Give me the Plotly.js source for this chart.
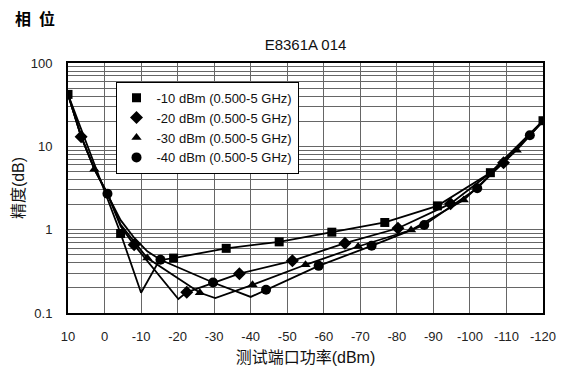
<!DOCTYPE html>
<html>
<head>
<meta charset="utf-8">
<script src="https://cdn.plot.ly/plotly-3.0.1.min.js"></script>
<style>html,body{margin:0;padding:0;background:#fff;}#chart{width:563px;height:374px;}</style>
</head>
<body>
<div id="chart"></div>
<script>
// ---- data (test port power in dBm, accuracy in dB) ----
const seriesNames = ['-10 dBm (0.500-5 GHz)', '-20 dBm (0.500-5 GHz)', '-30 dBm (0.500-5 GHz)', '-40 dBm (0.500-5 GHz)'];

const xM10 = [10, -4.4, -10, -15, -18.9, -33.3, -47.8, -62.2, -76.7, -91.1, -105.6, -120];
const yM10 = [42, 0.90, 0.175, 0.43, 0.456, 0.597, 0.714, 0.933, 1.22, 1.93, 4.83, 20.3];
const mkM10 = [0, 1, 4, 5, 6, 7, 8, 9, 10, 11];

const xM20 = [10, 6.4, 2.8, -0.8, -4.4, -8.1, -20.2, -22.5, -36.9, -51.4, -65.8, -80.3, -94.7, -109.2, -120];
const yM20 = [42, 13.0, 5.4, 2.7, 1.1, 0.657, 0.147, 0.177, 0.296, 0.423, 0.689, 1.04, 2.05, 6.36, 20];
const mkM20 = [1, 5, 7, 8, 9, 10, 11, 12, 13];

const xM30 = [10, 6.4, 2.8, -0.8, -4.4, -8.1, -11.7, -26.1, -30.3, -40.5, -55, -69.4, -83.9, -98.3, -112.8, -120];
const yM30 = [42, 13.2, 5.3, 2.7, 1.15, 0.72, 0.456, 0.175, 0.151, 0.218, 0.379, 0.628, 0.99, 2.27, 9.0, 20];
const mkM30 = [2, 6, 7, 9, 10, 11, 12, 13, 14];

const xM40 = [10, 6.4, 2.8, -0.8, -4.4, -8.1, -11.7, -15.3, -29.7, -40, -44.2, -58.6, -73.1, -87.5, -102, -116.4, -120];
const yM40 = [42, 13.2, 5.4, 2.7, 1.3, 0.8, 0.55, 0.435, 0.232, 0.156, 0.19, 0.368, 0.64, 1.14, 3.14, 13.6, 20];
const mkM40 = [3, 7, 8, 10, 11, 12, 13, 14, 15];

const xTickVals = [10, 0, -10, -20, -30, -40, -50, -60, -70, -80, -90, -100, -110, -120];
const xTickText = ['10', '0', '-10', '-20', '-30', '-40', '-50', '-60', '-70', '-80', '-90', '-100', '-110', '-120'];
const yTickVals = [0.1, 1, 10, 100];
const yTickText = ['0.1', '1', '10', '100'];

// ---- build traces ----
const series = [
  {x: xM10, y: yM10, mk: mkM10, symbol: 'square', size: 9},
  {x: xM20, y: yM20, mk: mkM20, symbol: 'diamond', size: 10},
  {x: xM30, y: yM30, mk: mkM30, symbol: 'triangle-up', size: 9},
  {x: xM40, y: yM40, mk: mkM40, symbol: 'circle', size: 10}
];
const traces = [];
series.forEach(s => {
  traces.push({x: s.x, y: s.y, type: 'scatter', mode: 'lines', showlegend: false,
    line: {color: '#000', width: 1.8}, hoverinfo: 'skip'});
});
series.forEach((s, i) => {
  traces.push({x: s.mk.map(k => s.x[k]), y: s.mk.map(k => s.y[k]), type: 'scatter', mode: 'markers',
    name: seriesNames[i], marker: {symbol: s.symbol, size: s.size, color: '#000'}});
});

const minorVals = [];
[0.1, 1, 10].forEach(d => { for (let k = 2; k <= 9; k++) minorVals.push(k * d); });

const latin = 'Liberation Sans, Arial, Noto Sans CJK SC, sans-serif';
const layout = {
  width: 563, height: 374,
  margin: {l: 68, r: 20, t: 63, b: 61},
  paper_bgcolor: '#fff', plot_bgcolor: '#fff',
  font: {family: latin, size: 12, color: '#222'},
  title: {text: 'E8361A 014', font: {family: latin, size: 15, color: '#111'},
    x: 0.5, xref: 'paper', y: 1 - 45 / 374, yref: 'container', yanchor: 'middle'},
  xaxis: {
    range: [10, -120], tickmode: 'array', tickvals: xTickVals, ticktext: xTickText,
    showgrid: true, gridcolor: '#666', gridwidth: 1, zeroline: false,
    showline: true, mirror: true, linecolor: '#000', linewidth: 2, ticks: '',
    ticklabelstandoff: 10,
    tickfont: {size: 13, color: '#222'},
    title: {text: '测试端口功率(dBm)', standoff: 9, font: {family: latin, size: 16, color: '#111'}}
  },
  yaxis: {
    type: 'log', range: [-1, 2], tickmode: 'array', tickvals: yTickVals, ticktext: yTickText,
    showgrid: true, gridcolor: '#666', gridwidth: 1, zeroline: false,
    showline: true, mirror: true, linecolor: '#000', linewidth: 2, ticks: '',
    ticklabelstandoff: 11,
    tickfont: {size: 13, color: '#222'},
    minor: {tickmode: 'array', tickvals: minorVals, showgrid: true, gridcolor: '#666', gridwidth: 1, ticks: ''},
    title: {text: '精度(dB)', standoff: 2, font: {family: latin, size: 16, color: '#111'}}
  },
  legend: {x: 0.1, y: 0.925, xanchor: 'left', yanchor: 'top', bgcolor: '#fff',
    bordercolor: '#000', borderwidth: 1, font: {family: latin, size: 13, color: '#111'}},
  annotations: [{text: '<b>相\u2002位</b>', xref: 'paper', yref: 'paper', x: -0.115, y: 1.18,
    xanchor: 'left', yanchor: 'middle', showarrow: false,
    font: {family: 'Noto Sans CJK SC, sans-serif', size: 16, color: '#000'}}]
};

Plotly.newPlot('chart', traces, layout, {staticPlot: true, displayModeBar: false});
</script>
</body>
</html>
